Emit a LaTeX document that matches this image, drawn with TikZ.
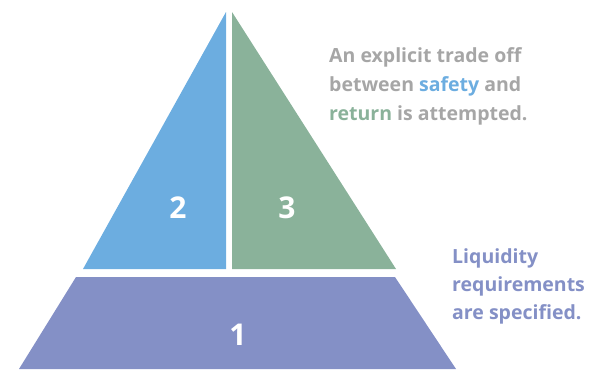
\documentclass[tikz,border=0pt]{standalone}
\usepackage{fontspec}
\setmainfont{Open Sans}
\definecolor{pblue}{RGB}{108,173,224}
\definecolor{pgreen}{RGB}{138,178,154}
\definecolor{ppurple}{RGB}{132,144,198}
\definecolor{tgray}{RGB}{166,166,166}
\begin{document}
\begin{tikzpicture}[x=1pt,y=-1pt,
  num/.style={text=white,font=\fontsize{30}{30}\selectfont\bfseries,inner sep=0pt},
  note/.style={font=\fontsize{19.5}{29}\selectfont\bfseries,align=left,inner sep=0pt,anchor=base west}]
\useasboundingbox (0,0) rectangle (595,370);
\fill[pblue] (226,12) -- (226,269) -- (83,269) -- cycle;
\fill[pgreen] (232,12) -- (232,269) -- (396,269) -- cycle;
\fill[ppurple] (76,277) -- (395,277) -- (456,369) -- (19,369) -- cycle;
\node[num] (n2) at (178,208) {2};
\node[num] (n3) at (287,208) {3};
\node[num] (n1) at (238,335) {1};
\node[note,text=tgray] (t1) at (329,120) {An explicit trade off\\between \textcolor{pblue}{safety} and\\\textcolor{pgreen}{return} is attempted.};
\node[note,text=ppurple,font=\fontsize{19.5}{28}\selectfont\bfseries] (t2) at (452,319) {Liquidity\\requirements\\are specified.};
\end{tikzpicture}
\end{document}
